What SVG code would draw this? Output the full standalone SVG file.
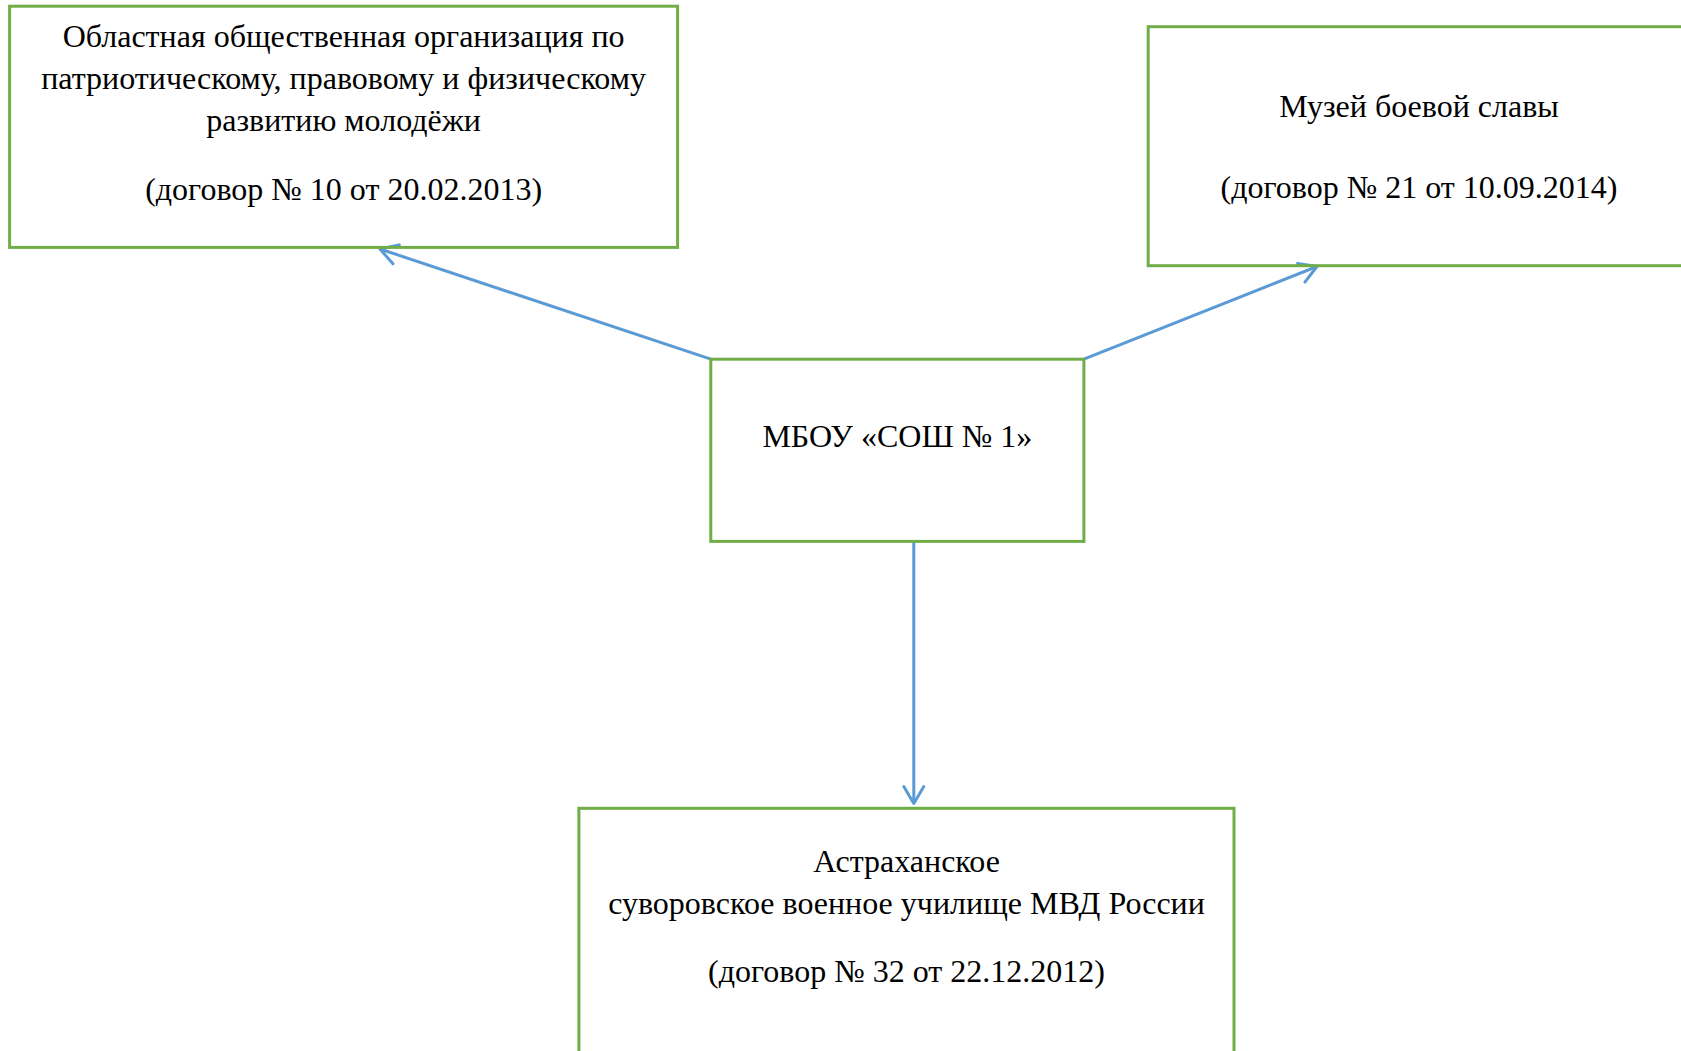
<svg xmlns="http://www.w3.org/2000/svg" width="1681" height="1051" viewBox="0 0 1681 1051">
<style>
.box{fill:none;stroke:#70AD47;stroke-width:3}
.t{font-family:"Liberation Serif","Times New Roman",serif;font-size:32px;fill:#000;text-anchor:middle}
.c{fill:none;stroke:#5B9BD5;stroke-width:3}
</style>
<defs>
<marker id="arr" markerUnits="userSpaceOnUse" markerWidth="40" markerHeight="40" viewBox="-20 -20 40 40" refX="0" refY="0" orient="auto" overflow="visible">
<path d="M-17,-10 L0,0 L-17,10" fill="none" stroke="#5B9BD5" stroke-width="3" stroke-linecap="round" stroke-linejoin="round"/>
</marker>
</defs>
<rect width="1681" height="1051" fill="#fff"/>
<g id="connectors">
<line class="c" x1="710.8" y1="359.2" x2="380" y2="249" marker-end="url(#arr)"/>
<line class="c" x1="1083.9" y1="359.2" x2="1317" y2="266.5" marker-end="url(#arr)"/>
<line class="c" x1="913.8" y1="541.4" x2="913.8" y2="803.5" marker-end="url(#arr)"/>
</g>
<g id="node-oblast">
<rect class="box" x="9.6" y="6.2" width="668" height="241.2"/>
<text class="t" x="343.6" y="46.7">Областная общественная организация по</text>
<text class="t" x="343.6" y="89.3">патриотическому, правовому и физическому</text>
<text class="t" x="343.6" y="130.7">развитию молодёжи</text>
<text class="t" x="343.6" y="200">(договор № 10 от 20.02.2013)</text>
</g>
<g id="node-museum">
<rect class="box" x="1148.2" y="26.7" width="560" height="239"/>
<text class="t" x="1419" y="117.3">Музей боевой славы</text>
<text class="t" x="1419" y="197.5">(договор № 21 от 10.09.2014)</text>
</g>
<g id="node-school">
<rect class="box" x="710.8" y="359.2" width="373.1" height="182.2"/>
<text class="t" x="897.3" y="447.3">МБОУ «СОШ № 1»</text>
</g>
<g id="node-suvorov">
<rect class="box" x="578.9" y="808.3" width="655.1" height="300"/>
<text class="t" x="906.5" y="871.7">Астраханское</text>
<text class="t" x="906.5" y="914">суворовское военное училище МВД России</text>
<text class="t" x="906.5" y="981.7">(договор № 32 от 22.12.2012)</text>
</g>
</svg>
